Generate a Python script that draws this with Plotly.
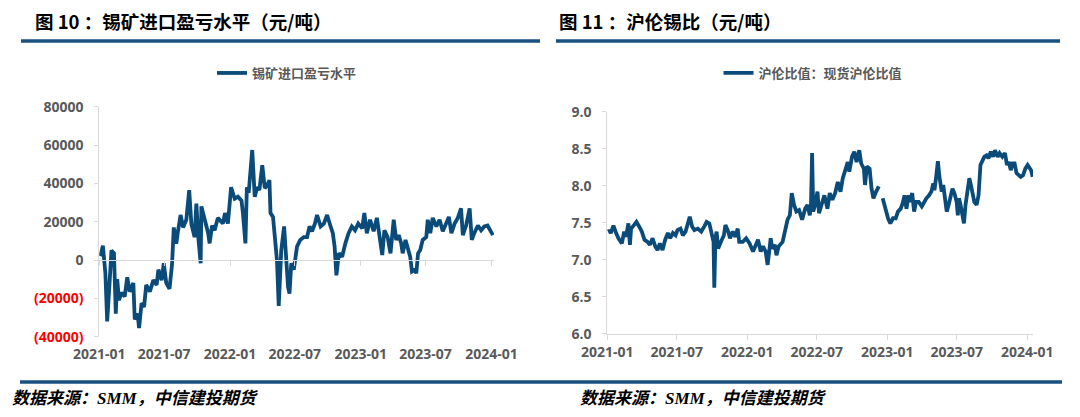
import plotly.graph_objects as go

# ---------------- data ----------------
X_TICKS = ["2021-01", "2021-07", "2022-01", "2022-07", "2023-01", "2023-07", "2024-01"]

L_NAME = "锡矿进口盈亏水平"
L_DATES = [
    "2021-01-04", "2021-01-07", "2021-01-11", "2021-01-18", "2021-01-23", "2021-01-28", "2021-02-04",
    "2021-02-11", "2021-02-16", "2021-02-20", "2021-02-25", "2021-03-04", "2021-03-13", "2021-03-20",
    "2021-03-27", "2021-04-06", "2021-04-10", "2021-04-18", "2021-04-22", "2021-04-29", "2021-05-06",
    "2021-05-12", "2021-05-22", "2021-06-01", "2021-06-10", "2021-06-15", "2021-06-24", "2021-06-30",
    "2021-07-07", "2021-07-16", "2021-07-23", "2021-07-28", "2021-08-04", "2021-08-09", "2021-08-16",
    "2021-08-23", "2021-09-01", "2021-09-09", "2021-09-15", "2021-09-24", "2021-09-29", "2021-10-05",
    "2021-10-11", "2021-10-13", "2021-10-22", "2021-11-01", "2021-11-05", "2021-11-12", "2021-11-19",
    "2021-11-28", "2021-12-12", "2021-12-18", "2021-12-26", "2022-01-04", "2022-01-14", "2022-01-23",
    "2022-02-02", "2022-02-06", "2022-02-13", "2022-02-17", "2022-02-22", "2022-02-28", "2022-03-04",
    "2022-03-11", "2022-03-18", "2022-03-24", "2022-04-01", "2022-04-08", "2022-04-15", "2022-04-21",
    "2022-04-24", "2022-05-01", "2022-05-08", "2022-05-12", "2022-05-17", "2022-05-24", "2022-06-01",
    "2022-06-07", "2022-06-12", "2022-06-16", "2022-06-21", "2022-06-28", "2022-07-07", "2022-07-16",
    "2022-07-26", "2022-08-04", "2022-08-11", "2022-08-18", "2022-08-26", "2022-09-01", "2022-09-11",
    "2022-09-20", "2022-09-29", "2022-10-08", "2022-10-15", "2022-10-20", "2022-10-25", "2022-11-01",
    "2022-11-10", "2022-11-19", "2022-11-28", "2022-12-07", "2022-12-16", "2022-12-25", "2023-01-05",
    "2023-01-11", "2023-01-18", "2023-01-27", "2023-02-06", "2023-02-15", "2023-02-24", "2023-03-02",
    "2023-03-08", "2023-03-17", "2023-03-25", "2023-04-03", "2023-04-10", "2023-04-17", "2023-04-24",
    "2023-04-28", "2023-05-06", "2023-05-12", "2023-05-19", "2023-05-24", "2023-06-01", "2023-06-05",
    "2023-06-10", "2023-06-16", "2023-06-23", "2023-07-03", "2023-07-07", "2023-07-14", "2023-07-21",
    "2023-07-31", "2023-08-09", "2023-08-18", "2023-08-28", "2023-09-04", "2023-09-11", "2023-09-20",
    "2023-09-29", "2023-10-08", "2023-10-13", "2023-10-22", "2023-11-01", "2023-11-07", "2023-11-14",
    "2023-11-24", "2023-12-03", "2023-12-12", "2023-12-21", "2023-12-31", "2024-01-05",
]
L_VALUES = [
    2000, 5200, 7500, -7000, -32000, -17000, 5000,
    3500, -28000, -10000, -21000, -17000, -19000, -9000,
    -16500, -12000, -31000, -28000, -35500, -22500, -24500,
    -13000, -16500, -10500, -13000, -5000, -10500, -1700,
    -12000, -15000, -2500, 17000, 8500, 15500, 23500,
    17000, 21000, 36500, 19000, 12000, 29500, 10500,
    -1700, 28000, 22000, 14000, 8700, 18000, 15500,
    22000, 19000, 24500, 19000, 38000, 32000, 33000,
    31000, 24500, 8700, 38000, 35000, 48700, 57400,
    33000, 38000, 36500, 49500, 37500, 39000, 41700,
    24500, 22500, 10500, 0, -24000, 5000, 17500,
    -3500, -14000, -17500, -1700, -5000, 7000, 10500,
    12000, 12000, 17500, 15000, 19000, 23500, 17500,
    19000, 23500, 18000, 14000, 7000, -8000, 3500,
    1700, 8700, 14000, 17500, 15500, 19000, 16500,
    24500, 14000, 21000, 15000, 22000, 12000, 2600,
    15500, 12000, 3500, 21000, 10500, 13000, 8700,
    3500, 10500, 7000, 1700, -6000, -5000, -7000,
    3500, 5200, 10500, 12000, 21000, 14000, 22000,
    17500, 21000, 15000, 20000, 22500, 14000, 19000,
    22000, 27000, 13000, 18000, 27000, 10500, 14000,
    18000, 15500, 17500, 18000, 15000, 13000,
]
L_YTICKS = [-40000, -20000, 0, 20000, 40000, 60000, 80000]

R_NAME = "沪伦比值：现货沪伦比值"
R_DATES = [
    "2021-01-04", "2021-01-06", "2021-01-10", "2021-01-17", "2021-01-24", "2021-01-30", "2021-02-08",
    "2021-02-14", "2021-02-19", "2021-02-25", "2021-03-01", "2021-03-04", "2021-03-12", "2021-03-18",
    "2021-03-25", "2021-04-01", "2021-04-08", "2021-04-16", "2021-04-22", "2021-04-29", "2021-05-06",
    "2021-05-12", "2021-05-18", "2021-05-25", "2021-06-01", "2021-06-08", "2021-06-14", "2021-06-21",
    "2021-06-28", "2021-07-03", "2021-07-11", "2021-07-17", "2021-07-24", "2021-07-30", "2021-08-04",
    "2021-08-10", "2021-08-16", "2021-08-25", "2021-09-03", "2021-09-11", "2021-09-17", "2021-09-24",
    "2021-10-01", "2021-10-05", "2021-10-07", "2021-10-10", "2021-10-13", "2021-10-17", "2021-10-24",
    "2021-11-01", "2021-11-05", "2021-11-11", "2021-11-17", "2021-11-24", "2021-12-01", "2021-12-07",
    "2021-12-11", "2021-12-20", "2021-12-29", "2022-01-07", "2022-01-16", "2022-01-23", "2022-01-29",
    "2022-02-05", "2022-02-11", "2022-02-18", "2022-02-23", "2022-02-28", "2022-03-03", "2022-03-07",
    "2022-03-14", "2022-03-18", "2022-03-24", "2022-04-03", "2022-04-10", "2022-04-16", "2022-04-22",
    "2022-04-27", "2022-05-03", "2022-05-09", "2022-05-16", "2022-05-24", "2022-06-01", "2022-06-07",
    "2022-06-13", "2022-06-16", "2022-06-19", "2022-06-22", "2022-06-27", "2022-07-03", "2022-07-07",
    "2022-07-14", "2022-07-21", "2022-07-29", "2022-08-04", "2022-08-11", "2022-08-18", "2022-08-25",
    "2022-09-01", "2022-09-07", "2022-09-14", "2022-09-20", "2022-09-24", "2022-10-01", "2022-10-07",
    "2022-10-13", "2022-10-20", "2022-10-25", "2022-11-01", "2022-11-04", "2022-11-09", "2022-11-16",
    "2022-11-21", "2022-11-26", "2022-12-03", "2022-12-10", "2022-12-14", "2022-12-20", "2022-12-27",
    "2023-01-03", "2023-01-09", "2023-01-16", "2023-01-23", "2023-01-29", "2023-02-05", "2023-02-10",
    "2023-02-15", "2023-02-20", "2023-02-26", "2023-03-01", "2023-03-07", "2023-03-12", "2023-03-17",
    "2023-03-24", "2023-04-01", "2023-04-07", "2023-04-13", "2023-04-20", "2023-04-26", "2023-05-01",
    "2023-05-04", "2023-05-09", "2023-05-13", "2023-05-17", "2023-05-23", "2023-05-27", "2023-06-01",
    "2023-06-05", "2023-06-10", "2023-06-15", "2023-06-20", "2023-06-25", "2023-07-01", "2023-07-04",
    "2023-07-07", "2023-07-11", "2023-07-16", "2023-07-20", "2023-07-24", "2023-07-28", "2023-08-03",
    "2023-08-07", "2023-08-11", "2023-08-16", "2023-08-22", "2023-08-27", "2023-09-01", "2023-09-05",
    "2023-09-11", "2023-09-17", "2023-09-22", "2023-09-28", "2023-10-04", "2023-10-09", "2023-10-16",
    "2023-10-21", "2023-10-28", "2023-11-04", "2023-11-09", "2023-11-14", "2023-11-19", "2023-11-24",
    "2023-11-29", "2023-12-04", "2023-12-09", "2023-12-15", "2023-12-21", "2023-12-27", "2024-01-02",
    "2024-01-07", "2024-01-11", "2024-01-15",
]
R_VALUES = [
    7.38, 7.40, 7.36, 7.46, 7.36, 7.29, 7.22,
    7.38, 7.31, 7.49, 7.20, 7.42, 7.47, 7.51,
    7.45, 7.38, 7.27, 7.24, 7.20, 7.29, 7.18,
    7.13, 7.22, 7.13, 7.27, 7.36, 7.29, 7.36,
    7.33, 7.40, 7.42, 7.33, 7.38, 7.47, 7.58,
    7.45, 7.40, 7.42, 7.38, 7.45, 7.51, 7.49,
    7.36, 7.24, 6.62, 7.29, 7.38, 7.15, 7.24,
    7.33, 7.47, 7.40, 7.29, 7.38, 7.31, 7.42,
    7.24, 7.24, 7.29, 7.22, 7.11, 7.20, 7.27,
    7.11, 7.18, 7.11, 6.93, 7.15, 7.29, 7.15,
    7.20, 7.06, 7.18, 7.24, 7.38, 7.54, 7.60,
    7.90, 7.74, 7.65, 7.67, 7.54, 7.69, 7.74,
    7.60, 7.72, 8.44, 7.65, 7.74, 7.92, 7.63,
    7.76, 7.87, 7.69, 7.90, 7.81, 7.90, 8.05,
    7.92, 8.10, 8.23, 8.32, 8.19, 8.39, 8.46,
    8.32, 8.48, 8.30, 8.23, 8.01, 8.26, 8.23,
    7.96, 7.83, 7.92, 7.99, None, 7.83, 7.69,
    7.56, 7.49, 7.56, 7.56, 7.65, 7.69, 7.76,
    7.87, 7.69, 7.87, 7.78, 7.90, 7.65, 7.78,
    7.78, 7.72, 7.78, 7.83, 7.87, 7.92, 8.03,
    7.94, 8.14, 8.33, 8.12, 7.92, 8.01, 7.83,
    7.65, 7.74, 7.83, 7.96, 7.90, 7.78, 7.60,
    7.83, 7.74, 7.56, 7.49, 7.74, 7.90, 8.10,
    8.01, 7.92, 7.78, 7.74, 7.87, 8.28, 8.32,
    8.39, 8.41, 8.37, 8.46, 8.39, 8.48, 8.39,
    8.44, 8.39, 8.44, 8.28, 8.32, 8.21, 8.30,
    8.30, 8.17, 8.14, 8.12, 8.14, 8.23, 8.28,
    8.23, 8.21, 8.12,
]
R_YTICKS = [6.0, 6.5, 7.0, 7.5, 8.0, 8.5, 9.0]

TITLE_L = "图 10 ：锡矿进口盈亏水平（元/吨）"
TITLE_R = "图 11 ：沪伦锡比（元/吨）"
SOURCE = "数据来源：SMM，中信建投期货"

# ---------------- style ----------------
W, H = 1080, 417
LINE_C = "#0A4B7A"
RULE_C = "#1A5180"
AX_C = "#D9D9D9"
LBL_C = "#595959"
TICK_FONT = dict(family="Open Sans, Noto Sans CJK SC", size=14, color=LBL_C, weight="bold")
CJK = "Noto Sans CJK SC"

def px_x(p):
    return p / W

def px_y(p):
    return 1 - p / H

# left plot geometry
L_DOM_X = [px_x(99.3), px_x(494)]
L_DOM_Y = [px_y(336.7), px_y(106.7)]
L_RANGE = [min(L_YTICKS), max(L_YTICKS)]
zero_pos = L_DOM_Y[0] + (0 - L_RANGE[0]) / (L_RANGE[1] - L_RANGE[0]) * (L_DOM_Y[1] - L_DOM_Y[0])

R_DOM_X = [px_x(607.3), px_x(1033)]
R_DOM_Y = [px_y(333.7), px_y(111.7)]

tickvals_x = [t + "-01" for t in X_TICKS]

def neg_label(v):
    if v < 0:
        return '<span style="color:#FF0000">(%d)</span>' % (-v)
    return "%d" % v

fig = go.Figure()
fig.add_trace(go.Scatter(
    x=L_DATES, y=L_VALUES, name=L_NAME, mode="lines",
    line=dict(color=LINE_C, width=3.8), xaxis="x", yaxis="y", legend="legend",
))
fig.add_trace(go.Scatter(
    x=R_DATES, y=R_VALUES, name=R_NAME, mode="lines",
    line=dict(color=LINE_C, width=3.8), xaxis="x2", yaxis="y2", legend="legend2",
    connectgaps=False,
))

axis_common = dict(showgrid=False, zeroline=False, showline=True, linecolor=AX_C, linewidth=1,
                   ticks="outside", tickcolor=AX_C, tickfont=TICK_FONT, automargin=False)

fig.update_layout(
    width=W, height=H,
    margin=dict(l=0, r=0, t=0, b=0, pad=0, autoexpand=False),
    paper_bgcolor="white", plot_bgcolor="white",
    xaxis=dict(domain=L_DOM_X, type="date", range=["2021-01-01", "2024-01-08"],
               anchor="free", position=zero_pos,
               tickvals=tickvals_x, ticktext=X_TICKS, ticklen=5,
               ticklabelstandoff=76, **axis_common),
    yaxis=dict(domain=L_DOM_Y, range=L_RANGE, anchor="x",
               tickvals=L_YTICKS, ticktext=[neg_label(v) for v in L_YTICKS],
               ticklen=4, ticklabelstandoff=8, **axis_common),
    xaxis2=dict(domain=R_DOM_X, type="date", range=["2021-01-01", "2024-01-16"], anchor="y2",
                tickvals=tickvals_x, ticktext=X_TICKS, ticklen=5, **axis_common),
    yaxis2=dict(domain=R_DOM_Y, range=[min(R_YTICKS), max(R_YTICKS)], anchor="x2",
                tickvals=R_YTICKS, ticktext=["%.1f" % v for v in R_YTICKS],
                ticklen=4, ticklabelstandoff=8, **axis_common),
    legend=dict(x=px_x(287), y=px_y(73), xanchor="center", yanchor="middle", orientation="h",
                font=dict(family=CJK, size=13, color=LBL_C, weight="bold"), bgcolor="rgba(0,0,0,0)"),
    legend2=dict(x=px_x(813), y=px_y(73), xanchor="center", yanchor="middle", orientation="h",
                 font=dict(family=CJK, size=13, color=LBL_C, weight="bold"), bgcolor="rgba(0,0,0,0)"),
    showlegend=True,
)

# titles
for txt, xp in [(TITLE_L, 33), (TITLE_R, 557)]:
    fig.add_annotation(text="<b>%s</b>" % txt, xref="paper", yref="paper", x=px_x(xp), y=px_y(21),
                       xanchor="left", yanchor="middle", showarrow=False,
                       font=dict(family=CJK, size=18.5, color="#000000"))
# sources
for xp in [10, 578]:
    fig.add_annotation(text="<b><i>%s</i></b>" % SOURCE, xref="paper", yref="paper", x=px_x(xp), y=px_y(398),
                       xanchor="left", yanchor="middle", showarrow=False,
                       font=dict(family="Liberation Serif, " + CJK, size=17, color="#000000"))

# rules
for x0, x1, yp in [(21, 540, 41), (556, 1060, 41), (20, 1062, 382)]:
    fig.add_shape(type="line", xref="paper", yref="paper", x0=px_x(x0), x1=px_x(x1),
                  y0=px_y(yp), y1=px_y(yp), line=dict(color=RULE_C, width=3.5))

fig.write_html("out.html", config={"displayModeBar": False},
               post_script="document.body.style.margin='0';document.body.style.padding='0';")
